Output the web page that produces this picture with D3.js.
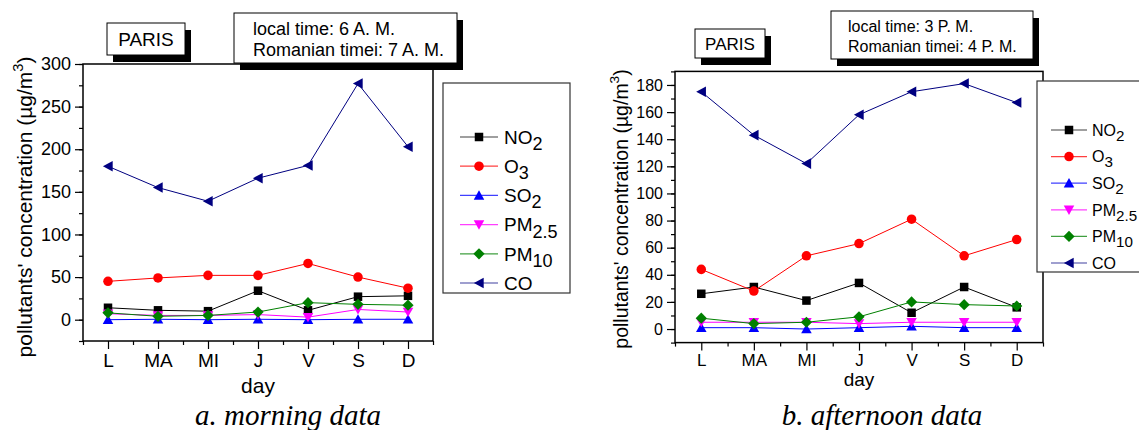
<!DOCTYPE html>
<html>
<head>
<meta charset="utf-8">
<script src="https://cdn.jsdelivr.net/npm/d3@7"></script>
<style>
  body { margin: 0; background: #fff; }
  text { font-family: "Liberation Sans", Arial, sans-serif; fill: #000; }
  .caption { font-family: "Liberation Serif", "Times New Roman", serif; font-style: italic; }
</style>
</head>
<body>
<div id="chart"></div>
<script>
// days of the week (Romanian abbreviations)
var days = ["L", "MA", "MI", "J", "V", "S", "D"];

var pollutants = ["NO2", "O3", "SO2", "PM2.5", "PM10", "CO"];

// morning data (6 A.M.)
var morningNO2  = [14, 11, 10, 34, 11, 27, 28];
var morningO3   = [45, 49, 52, 52, 66, 50, 37];
var morningSO2  = [0, 0.5, 0, 0.5, 0, 0.5, 0.5];
var morningPM25 = [7, 5, 5, 6, 3, 12, 9];
var morningPM10 = [8, 4, 5, 9, 20, 18, 17];
var morningCO   = [180, 155, 139, 166, 181, 277, 203];

// afternoon data (3 P.M.)
var afternoonNO2  = [26, 31, 21, 34, 12, 31, 16];
var afternoonO3   = [44, 28, 54, 63, 81, 54, 66];
var afternoonSO2  = [1, 1, 0, 1, 2, 1, 1];
var afternoonPM25 = [5, 5, 5, 4, 5, 5, 5];
var afternoonPM10 = [8, 4, 5, 9, 20, 18, 17];
var afternoonCO   = [175, 143, 122, 158, 175, 181, 167];

var colors = { "NO2": "#000000", "O3": "#ff0000", "SO2": "#0000ff",
               "PM2.5": "#ff00ff", "PM10": "#008000", "CO": "#000080" };

var svg = d3.select("#chart").append("svg")
  .attr("width", 1139)
  .attr("height", 430);

// marker shapes, centred at 0,0
function marker(g, name, s) {
  var c = colors[name];
  if (name == "NO2") {
    g.append("rect").attr("x", -s * 0.5).attr("y", -s * 0.5)
      .attr("width", s).attr("height", s).attr("fill", c);
  } else if (name == "O3") {
    g.append("circle").attr("r", s * 0.56).attr("fill", c);
  } else if (name == "SO2") {
    g.append("path").attr("d", `M0,${-s * 0.6}L${s * 0.62},${s * 0.5}L${-s * 0.62},${s * 0.5}Z`).attr("fill", c);
  } else if (name == "PM2.5") {
    g.append("path").attr("d", `M0,${s * 0.6}L${s * 0.62},${-s * 0.5}L${-s * 0.62},${-s * 0.5}Z`).attr("fill", c);
  } else if (name == "PM10") {
    g.append("path").attr("d", `M0,${-s * 0.66}L${s * 0.66},0L0,${s * 0.66}L${-s * 0.66},0Z`).attr("fill", c);
  } else {
    g.append("path").attr("d", `M${-s * 0.6},0L${s * 0.55},${-s * 0.62}L${s * 0.55},${s * 0.62}Z`).attr("fill", c);
  }
}

// label with subscript numbers
function chemLabel(t, name, fs) {
  var parts = { "NO2": ["NO", "2"], "O3": ["O", "3"], "SO2": ["SO", "2"],
                "PM2.5": ["PM", "2.5"], "PM10": ["PM", "10"], "CO": ["CO", ""] }[name];
  t.append("tspan").text(parts[0]);
  if (parts[1]) {
    t.append("tspan").attr("dy", fs * 0.32).attr("font-size", fs * 0.95).text(parts[1]);
  }
}

function shadowBox(x, y, w, h, off) {
  svg.append("rect").attr("x", x + off).attr("y", y + off + 1)
    .attr("width", w).attr("height", h).attr("fill", "#000");
  svg.append("rect").attr("x", x).attr("y", y)
    .attr("width", w).attr("height", h)
    .attr("fill", "#fff").attr("stroke", "#000").attr("stroke-width", 1);
}

function drawPanel(p) {
  var g = svg.append("g").attr("transform", `translate(${p.left}, ${p.top})`);

  var x = d3.scaleLinear().domain([0.5, 7.5]).range([0, p.width]);
  var y = d3.scaleLinear().domain(p.yDomain).range([p.height, 0]);

  // minor ticks
  g.append("g")
    .call(d3.axisLeft(y).tickValues(d3.range(p.yDomain[0], p.yDomain[1] + 0.1, p.minor)).tickSize(4).tickFormat(""))
    .call(a => a.select(".domain").remove());
  g.append("g").attr("transform", `translate(0, ${p.height})`)
    .call(d3.axisBottom(x).tickValues(d3.range(0.5, 7.6, 1)).tickSize(4).tickFormat(""))
    .call(a => a.select(".domain").remove());

  // major ticks with labels
  var leftAxis = d3.axisLeft(y)
    .tickValues(d3.range(0, p.yDomain[1] + 0.1, p.major))
    .tickSize(8).tickPadding(4);
  g.append("g").call(leftAxis)
    .call(a => a.select(".domain").remove())
    .selectAll("text").attr("font-size", p.fs).attr("font-family", "Liberation Sans, Arial, sans-serif").attr("fill", "#111");

  var bottomAxis = d3.axisBottom(x)
    .tickValues(d3.range(1, 8))
    .tickFormat(i => days[i - 1])
    .tickSize(8).tickPadding(p.xpad);
  g.append("g").attr("transform", `translate(0, ${p.height})`).call(bottomAxis)
    .call(a => a.select(".domain").remove())
    .selectAll("text").attr("font-size", p.xfs).attr("font-family", "Liberation Sans, Arial, sans-serif").attr("fill", "#111");

  g.selectAll(".tick line").attr("stroke", "#000").attr("stroke-width", 1.2);

  // frame
  g.append("rect").attr("width", p.width).attr("height", p.height)
    .attr("fill", "none").attr("stroke", "#000").attr("stroke-width", 1.5);

  // series lines + markers
  var line = d3.line().x((d, i) => x(i + 1)).y(d => y(d));
  pollutants.forEach(function(name, k) {
    var vals = p.series[k];
    g.append("path").datum(vals)
      .attr("d", line).attr("fill", "none")
      .attr("stroke", colors[name]).attr("stroke-width", 1);
    vals.forEach(function(v, i) {
      var m = g.append("g").attr("transform", `translate(${x(i + 1)}, ${y(v)})`);
      marker(m, name, p.ms);
    });
  });

  // axis titles
  var yl = svg.append("text")
    .attr("transform", `translate(${p.ylabX}, ${p.ylabY}) rotate(-90)`)
    .attr("text-anchor", "middle")
    .attr("font-size", p.yfs);
  yl.append("tspan").text("pollutants' concentration (\u00b5g/m");
  yl.append("tspan").attr("dy", -p.yfs * 0.45).attr("font-size", p.yfs * 0.7).text("3");
  yl.append("tspan").attr("dy", p.yfs * 0.45).text(")");

  svg.append("text")
    .attr("x", p.left + p.width / 2).attr("y", p.dayY)
    .attr("text-anchor", "middle").attr("font-size", p.dfs)
    .text("day");

  svg.append("text").attr("class", "caption")
    .attr("x", p.capX).attr("y", 425)
    .attr("text-anchor", "middle").attr("font-size", 29)
    .text(p.caption);

  // legend
  var lg = p.legend;
  svg.append("rect").attr("x", lg.x).attr("y", lg.y)
    .attr("width", lg.w).attr("height", lg.h)
    .attr("fill", "#fff").attr("stroke", "#333").attr("stroke-width", 1.2);
  pollutants.forEach(function(name, k) {
    var yy = lg.first + k * lg.step;
    svg.append("line").attr("x1", lg.x1).attr("x2", lg.x2)
      .attr("y1", yy).attr("y2", yy)
      .attr("stroke", colors[name]).attr("stroke-width", 1.2).attr("opacity", 0.75);
    var m = svg.append("g").attr("transform", `translate(${(lg.x1 + lg.x2) / 2}, ${yy})`);
    marker(m, name, p.ms);
    var t = svg.append("text").attr("x", lg.tx).attr("y", yy + lg.fs * 0.36)
      .attr("font-size", lg.fs);
    chemLabel(t, name, lg.fs);
  });

  // PARIS box and time box
  var pb = p.paris;
  shadowBox(pb.x, pb.y, pb.w, pb.h, 6);
  svg.append("text").attr("x", pb.x + pb.w / 2).attr("y", pb.y + pb.h / 2 + pb.fs * 0.36)
    .attr("text-anchor", "middle").attr("font-size", pb.fs).text("PARIS");

  var tb = p.time;
  shadowBox(tb.x, tb.y, tb.w, tb.h, 6);
  svg.append("text").attr("x", tb.tx).attr("y", tb.l1)
    .attr("font-size", tb.fs).text(p.timeLines[0]);
  svg.append("text").attr("x", tb.tx).attr("y", tb.l2)
    .attr("font-size", tb.fs).text(p.timeLines[1]);
}

drawPanel({
  left: 83, top: 64, width: 350, height: 277,
  yDomain: [-25, 300], major: 50, minor: 25,
  fs: 18, xfs: 19, yfs: 21, dfs: 21, ms: 8.5, xpad: 5,
  series: [morningNO2, morningO3, morningSO2, morningPM25, morningPM10, morningCO],
  ylabX: 32, ylabY: 207, dayY: 393, capX: 288,
  caption: "a. morning data",
  legend: { x: 443, y: 83, w: 127, h: 210, first: 137, step: 29.2, x1: 460, x2: 498, tx: 504, fs: 19 },
  paris: { x: 107, y: 23, w: 78, h: 32, fs: 19 },
  time: { x: 234, y: 13, w: 223, h: 50, tx: 253, l1: 35, l2: 56, fs: 18 },
  timeLines: ["local time: 6 A. M.", "Romanian timei: 7 A. M."]
});

drawPanel({
  left: 675, top: 71.4, width: 368, height: 271.2,
  yDomain: [-10, 190], major: 20, minor: 10,
  fs: 16, xfs: 17, yfs: 19.5, dfs: 19, ms: 8.5, xpad: 3,
  series: [afternoonNO2, afternoonO3, afternoonSO2, afternoonPM25, afternoonPM10, afternoonCO],
  ylabX: 628, ylabY: 209, dayY: 386, capX: 882,
  caption: "b. afternoon data",
  legend: { x: 1037, y: 81, w: 140, h: 191, first: 130, step: 26.6, x1: 1051, x2: 1087, tx: 1092, fs: 16 },
  paris: { x: 695, y: 29, w: 70, h: 29, fs: 17 },
  time: { x: 831, y: 11, w: 202, h: 48, tx: 848, l1: 32, l2: 52, fs: 16 },
  timeLines: ["local time: 3 P. M.", "Romanian timei: 4 P. M."]
});
</script>
</body>
</html>
